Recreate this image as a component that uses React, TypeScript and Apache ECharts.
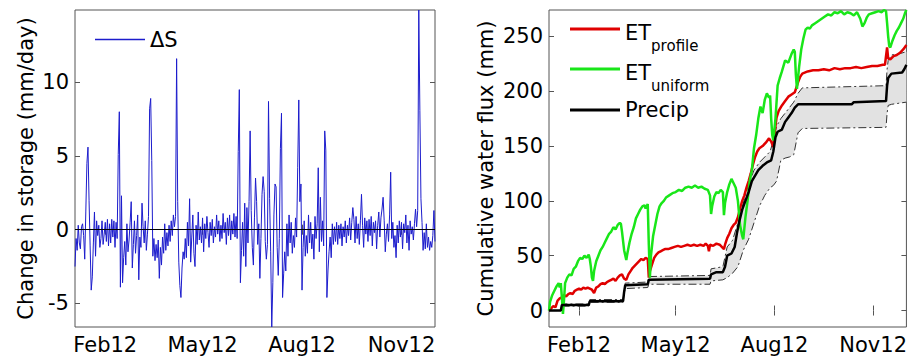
import React, { useEffect, useRef } from 'react';
import * as echarts from 'echarts';

// ---------- data (day of year 2012, Jan 1 = 1) ----------
const FIRST_DAY = 4;
const X_MIN = 4;
const X_MAX = 337;
const monthTickDays = [32, 122, 214, 306];
const monthTickLabels = ['Feb12', 'May12', 'Aug12', 'Nov12'];
const dsTicks = [-5, 0, 5, 10];
const fluxTicks = [0, 50, 100, 150, 200, 250];

// daily change in storage (mm/day), day 4 .. 337
const deltaS = [
  // Jan (4-31)
  -2.5, -0.6, -1.4, 0.3, -0.9, -1.3, 0.2, 0.4, -0.4, -2.0, 1.2, 4.5, 5.6, 2.0, -1.1, -4.1, -3.2, -0.9, 1.2, -1.8, 0.6, -0.4, 0.3, -1.2, -0.6, 0.6, -1.0, -0.3,
  // Feb
  0.5, -0.8, 0.7, -1.1, 0.4, -0.9, 0.7, -0.5, 0.6, -1.2, 0.5, -0.6, 5.1, 8.0, -3.9, 2.3, -3.6, -1.9, -0.8, -2.4, 0.4, -1.5, -0.7, 0.5, 1.9, -2.6, -1.0, 0.6, -1.6,
  // Mar
  -0.4, 1.0, -3.4, -0.5, -1.2, 1.8, 0.2, -0.9, 0.6, -1.4, -0.3, 0.9, 8.2, 8.9, 4.7, -1.8, -0.6, -2.1, -1.0, -1.9, -0.7, -3.3, -1.2, -2.4, -0.5, -1.6, 0.4, -1.4, -0.2, -1.1, 0.3,
  // Apr
  -0.8, 0.6, -0.4, 1.0, 0.2, 0.9, 11.6, 1.9, -2.2, -3.8, -4.6, -2.6, -1.5, -2.0, -0.6, -1.9, 0.5, -1.1, 2.1, -2.2, -0.5, 1.0, -1.6, -2.5, 0.3, -1.0, 1.2, -0.7, 0.2, -0.9,
  // May
  0.8, -1.5, 0.4, -0.6, 0.9, -0.2, -1.2, 0.5, -0.4, 0.7, -0.9, 0.2, -0.5, 1.0, -0.3, 0.6, -0.8, 0.3, -0.6, 1.1, -0.2, 0.5, -1.0, 0.8, -0.4, 1.0, -0.7, 0.6, -0.3, 1.1, -0.5,
  // Jun
  0.9, -0.6, 5.3, 9.5, -3.6, -1.4, 0.5, -1.8, 1.8, -2.5, 1.5, -0.9, 1.9, 6.7, 1.3, -1.2, -2.4, 0.8, 3.5, 1.9, -1.0, 0.4, -3.3, -0.6, 2.4, 3.6, 2.6, -0.8, -2.0, -1.0,
  // Jul
  8.7, 2.1, -1.5, -6.6, -3.6, 1.0, 3.1, 2.9, -1.2, -3.1, -0.6, 5.5, 7.9, -4.6, -3.0, -1.5, -2.8, 0.4, -1.8, 1.0, -0.9, 0.5, -1.6, -0.4, -1.2, 0.8, -0.5, 4.2, 8.8, 1.9, 3.1,
  // Aug
  -4.1, -1.2, 0.6, -1.8, -0.4, -1.6, 1.0, -0.9, 0.5, -1.3, -0.3, -2.0, 0.9, -0.6, 0.4, 4.2, -1.5, 2.2, -0.8, 0.6, -1.1, 6.7, 5.4, -4.6, -2.8, -1.5, -0.5, -1.9, 0.4, -1.0, 0.2,
  // Sep
  -0.8, 0.5, -1.0, 0.3, -0.6, 0.4, -1.1, 0.2, -0.5, 0.6, -0.9, 0.3, -0.4, 0.8, -0.7, 0.5, 1.5, 0.7, -0.9, 0.9, -0.6, 0.4, -1.0, 0.6, 2.4, 0.3, -1.2, 0.8, -0.3, 0.6,
  // Oct
  -0.8, 0.7, -0.4, 0.9, -1.1, 0.5, -0.2, 0.6, -1.3, 0.3, 1.2, -0.5, 0.8, 1.4, 2.2, 0.6, -1.5, -0.3, 0.4, -0.8, 1.0, 3.9, -0.6, 0.5, -1.2, -0.4, -1.9, 0.3, -0.9, 0.6, -0.5,
  // Nov
  0.5, -1.3, 0.4, -0.2, 1.0, -0.9, 0.3, -1.4, 0.6, -0.3, 0.2, -0.7, 0.4, 1.4, 0.2, 1.3, 14.9, 8.1, 2.1, 0.5, -1.4, -0.2, -1.3, 0.4, -1.2, -0.5, -1.4, -0.8, -1.2, -0.4,
  // Dec
  1.3, -0.8,
];

// cumulative fluxes (mm): [day, value]
const etProfile = [
  [4, 0], [6, 2], [8, 4], [10, 3], [12, 9], [14, 11], [16, 12], [18, 14], [20, 13], [22, 15], [24, 16], [26, 15], [28, 18], [30, 19],
  [32, 20], [34, 19], [36, 21], [38, 20], [40, 21], [42, 20], [44, 19], [46, 16], [48, 21], [50, 22], [52, 24], [54, 25], [56, 24], [58, 26],
  [60, 27], [62, 28], [64, 29], [66, 27], [68, 30], [70, 32], [72, 33], [74, 29], [76, 28], [78, 33], [80, 36], [82, 39], [84, 41], [86, 43],
  [88, 45], [90, 47], [92, 46], [94, 48], [96, 47], [97, 30], [98, 36], [100, 42], [102, 48], [104, 51], [106, 53], [108, 54], [110, 55],
  [112, 56], [115, 56], [118, 57], [121, 58], [124, 59], [127, 58], [130, 59], [133, 60], [136, 59], [139, 60], [142, 59], [145, 60], [148, 59],
  [150, 61], [152, 59], [153, 54], [154, 60], [157, 59], [160, 61], [163, 60], [165, 58], [167, 56], [168, 60], [170, 66], [172, 70], [174, 75],
  [176, 78], [178, 80], [180, 85], [182, 93], [184, 100], [186, 105], [188, 112], [190, 118], [192, 125], [194, 133], [196, 140], [198, 145],
  [200, 148], [203, 150], [206, 153], [209, 157], [211, 154], [213, 149], [214, 160], [216, 176], [218, 182], [221, 187], [224, 191], [227, 195],
  [230, 197], [233, 199], [236, 208], [238, 213], [240, 216], [245, 218], [250, 219], [255, 219], [260, 220], [265, 219], [270, 221], [275, 220],
  [280, 221], [285, 221], [290, 222], [295, 221], [300, 222], [305, 223], [310, 223], [315, 224], [317, 224], [319, 240], [320, 230], [322, 229],
  [325, 232], [328, 233], [331, 235], [334, 238], [337, 242],
];

const etUniform = [
  [4, 0], [5, 8], [7, 14], [9, 18], [11, 22], [13, 25], [14, 21], [15, 25], [16, 12], [17, -3], [18, 10], [19, 25], [21, 30], [23, 33], [25, 32],
  [27, 38], [29, 40], [31, 45], [33, 48], [35, 47], [37, 50], [39, 48], [41, 51], [42, 47], [43, 40], [44, 30], [45, 27], [46, 36], [48, 45],
  [50, 50], [52, 55], [54, 58], [56, 62], [58, 66], [60, 70], [62, 72], [64, 76], [66, 74], [68, 78], [70, 80], [71, 79], [72, 72], [74, 55],
  [76, 46], [77, 52], [79, 62], [81, 70], [83, 76], [85, 84], [87, 88], [89, 92], [91, 95], [93, 96], [94, 93], [96, 97], [97, 60], [98, 30],
  [99, 50], [101, 68], [103, 78], [105, 88], [107, 95], [109, 98], [111, 100], [113, 103], [116, 105], [119, 107], [122, 108], [125, 110],
  [128, 109], [131, 112], [134, 113], [137, 112], [140, 114], [143, 112], [146, 113], [149, 111], [152, 110], [154, 105], [155, 88], [156, 95],
  [158, 104], [160, 108], [162, 107], [164, 110], [166, 108], [167, 87], [168, 98], [170, 108], [172, 115], [174, 120], [176, 116], [178, 112],
  [180, 100], [182, 78], [184, 68], [185, 65], [187, 85], [189, 100], [191, 118], [193, 128], [195, 148], [197, 160], [199, 175], [201, 186],
  [203, 180], [205, 192], [207, 198], [209, 194], [210, 196], [211, 175], [212, 160], [213, 155], [215, 175], [217, 205], [219, 212], [221, 218],
  [224, 228], [227, 226], [230, 234], [232, 238], [233, 236], [234, 215], [235, 202], [237, 222], [239, 238], [241, 248], [243, 256], [245, 258],
  [247, 257], [249, 260], [252, 262], [255, 264], [258, 266], [261, 268], [264, 270], [267, 269], [270, 272], [273, 271], [276, 273], [279, 270],
  [282, 272], [285, 271], [288, 269], [291, 272], [294, 266], [296, 259], [298, 262], [300, 267], [302, 270], [305, 271], [308, 272], [311, 273],
  [314, 272], [316, 274], [318, 273], [319, 262], [320, 250], [321, 241], [322, 240], [324, 246], [326, 251], [328, 255], [330, 258], [332, 262],
  [334, 266], [336, 272], [337, 274],
];

const precip = [
  [4, 0], [15, 0], [16, 5], [41, 5], [42, 8.5], [73, 8.5], [74, 17], [75, 23], [96, 24], [97, 28], [154, 29], [155, 33], [160, 35], [166, 35],
  [168, 40], [170, 50], [174, 52], [177, 58], [179, 70], [181, 80], [184, 92], [187, 100], [190, 108], [193, 118], [196, 123], [199, 128],
  [203, 132], [207, 135], [211, 137], [213, 145], [215, 158], [217, 163], [221, 165], [224, 172], [227, 176], [230, 180], [233, 185], [236, 188],
  [286, 188], [288, 190], [318, 191], [319, 205], [320, 212], [323, 216], [333, 217], [335, 220], [337, 224],
];

const bandDays = [4, 15, 16, 41, 42, 73, 74, 75, 96, 97, 154, 155, 166, 170, 175, 180, 185, 190, 195, 200, 205, 210, 213, 216, 220, 224, 228, 232, 236, 240, 318, 319, 320, 323, 330, 337];
const bandUpper = [0, 0, 6, 6, 10, 10, 18, 25, 26, 31, 32, 38, 40, 58, 64, 80, 98, 115, 128, 135, 140, 145, 155, 168, 175, 180, 185, 190, 198, 203, 205, 220, 228, 233, 234, 236];
const bandLower = [0, 0, 4, 4, 7.5, 7.5, 15, 20, 21, 24, 24, 27, 28, 30, 34, 40, 55, 65, 80, 95, 105, 112, 114, 118, 137, 139, 140, 142, 162, 166, 167, 180, 187, 188, 189, 190];

// ---------- styling ----------
const FONT = 'DejaVu Sans';
const AX = '#555';
const TXT = '#000';

function xAxes(gridIndex: number) {
  const base = {
    type: 'value' as const,
    gridIndex,
    min: X_MIN,
    max: X_MAX,
    axisLine: { show: false },
    splitLine: { show: false },
    axisTick: { inside: true, length: 5, lineStyle: { color: AX }, customValues: monthTickDays },
  };
  return [
    {
      ...base,
      position: 'bottom',
      axisLabel: {
        customValues: monthTickDays,
        formatter: (v: number) => monthTickLabels[monthTickDays.indexOf(v)] ?? '',
        fontFamily: FONT,
        fontSize: 21,
        color: TXT,
        margin: 7,
      },
    },
    { ...base, position: 'top', axisLabel: { show: false } },
  ];
}

function yAxes(gridIndex: number, min: number, max: number, ticks: number[], name: string, nameGap: number) {
  const base = {
    type: 'value' as const,
    gridIndex,
    min,
    max,
    axisLine: { show: false },
    splitLine: { show: false },
    axisTick: { inside: true, length: 5, lineStyle: { color: AX }, customValues: ticks },
  };
  return [
    {
      ...base,
      position: 'left',
      name,
      nameLocation: 'middle',
      nameGap,
      nameTextStyle: { fontFamily: FONT, fontSize: 21, color: TXT },
      axisLabel: {
        customValues: ticks,
        fontFamily: FONT,
        fontSize: 21,
        color: TXT,
        margin: 6,
      },
    },
    { ...base, position: 'right', axisLabel: { show: false } },
  ];
}

const richLegend = {
  a: { fontFamily: FONT, fontSize: 21, lineHeight: 21, padding: [4, 0, 0, 0], verticalAlign: 'top', color: TXT },
  s: { fontFamily: FONT, fontSize: 15, lineHeight: 15, padding: [20, 0, 0, 0], verticalAlign: 'top', color: TXT },
  p: { fontFamily: FONT, fontSize: 21, lineHeight: 21, color: TXT },
};

function legendFor(name: string, left: number, top: number, h: number, fmt: string) {
  return {
    data: [name],
    left,
    top,
    padding: 0,
    itemWidth: 50,
    itemHeight: h,
    icon: 'rect',
    selectedMode: false,
    formatter: () => fmt,
    textStyle: { fontFamily: FONT, fontSize: 21, color: TXT, rich: richLegend },
  };
}

export default function App() {
  const ref = useRef<HTMLDivElement>(null);

  useEffect(() => {
    if (!ref.current) return;
    const chart = echarts.init(ref.current, null, { renderer: 'svg' });

    const dsData = deltaS.map((v, i) => [FIRST_DAY + i, v]);
    const lowerData = bandDays.map((d, i) => [d, bandLower[i]]);
    const upperData = bandDays.map((d, i) => [d, bandUpper[i]]);
    const dash = { color: '#333', width: 1, type: [8, 3, 2, 3] };

    const option: any = {
      animation: false,
      backgroundColor: '#fff',
      grid: [
        { left: 75, top: 10, width: 360, height: 317, show: true, borderColor: AX, borderWidth: 1, backgroundColor: 'transparent' },
        { left: 549, top: 10, width: 359, height: 317, show: true, borderColor: AX, borderWidth: 1, backgroundColor: 'transparent' },
      ],
      xAxis: [...xAxes(0), ...xAxes(1)],
      yAxis: [
        ...yAxes(0, -6.6, 14.9, dsTicks, 'Change in storage (mm/day)', 39),
        ...yAxes(1, -15, 274, fluxTicks, 'Cumulative water flux (mm)', 53),
      ],
      legend: [
        legendFor('ΔS', 95, 29, 1.5, '{p|ΔS}'),
        legendFor('ETprofile', 570, 18.5, 3, '{a|ET}{s|profile}'),
        legendFor('ETuniform', 570, 58.5, 3, '{a|ET}{s|uniform}'),
        legendFor('Precip', 570, 99.5, 3, '{p|Precip}'),
      ],
      series: [
        {
          name: 'ΔS',
          type: 'line',
          xAxisIndex: 0,
          yAxisIndex: 0,
          data: dsData,
          symbol: 'none',
          color: '#1c1ccc',
          lineStyle: { color: '#1c1ccc', width: 1 },
          markLine: {
            silent: true,
            symbol: ['none', 'none'],
            label: { show: false },
            lineStyle: { color: '#000', width: 1, type: 'solid' },
            data: [{ yAxis: 0 }],
          },
        },
        {
          name: 'bandFill',
          type: 'custom',
          xAxisIndex: 2,
          yAxisIndex: 2,
          data: [0],
          silent: true,
          renderItem: (_params: any, api: any) => {
            const top = bandDays.map((d, i) => api.coord([d, bandUpper[i]]));
            const bottom = bandDays.map((d, i) => api.coord([d, bandLower[i]])).reverse();
            return {
              type: 'polygon',
              shape: { points: [...top, ...bottom] },
              style: { fill: '#e2e2e2', stroke: 'none' },
            };
          },
        },
        {
          name: 'lowerLine',
          type: 'line',
          xAxisIndex: 2,
          yAxisIndex: 2,
          data: lowerData,
          symbol: 'none',
          lineStyle: dash,
        },
        {
          name: 'upperLine',
          type: 'line',
          xAxisIndex: 2,
          yAxisIndex: 2,
          data: upperData,
          symbol: 'none',
          lineStyle: dash,
        },
        {
          name: 'ETprofile',
          type: 'line',
          xAxisIndex: 2,
          yAxisIndex: 2,
          data: etProfile,
          symbol: 'none',
          color: '#e00000',
          lineStyle: { color: '#e00000', width: 2.5 },
        },
        {
          name: 'ETuniform',
          type: 'line',
          xAxisIndex: 2,
          yAxisIndex: 2,
          data: etUniform,
          symbol: 'none',
          color: '#19e619',
          lineStyle: { color: '#19e619', width: 2.5 },
        },
        {
          name: 'Precip',
          type: 'line',
          xAxisIndex: 2,
          yAxisIndex: 2,
          data: precip,
          symbol: 'none',
          color: '#000',
          lineStyle: { color: '#000', width: 2.5 },
        },
      ],
    };

    chart.setOption(option);
    return () => chart.dispose();
  }, []);

  return (
    <div
      ref={ref}
      style={{ position: 'fixed', left: 0, top: 0, width: 910, height: 356, background: '#fff' }}
    />
  );
}
